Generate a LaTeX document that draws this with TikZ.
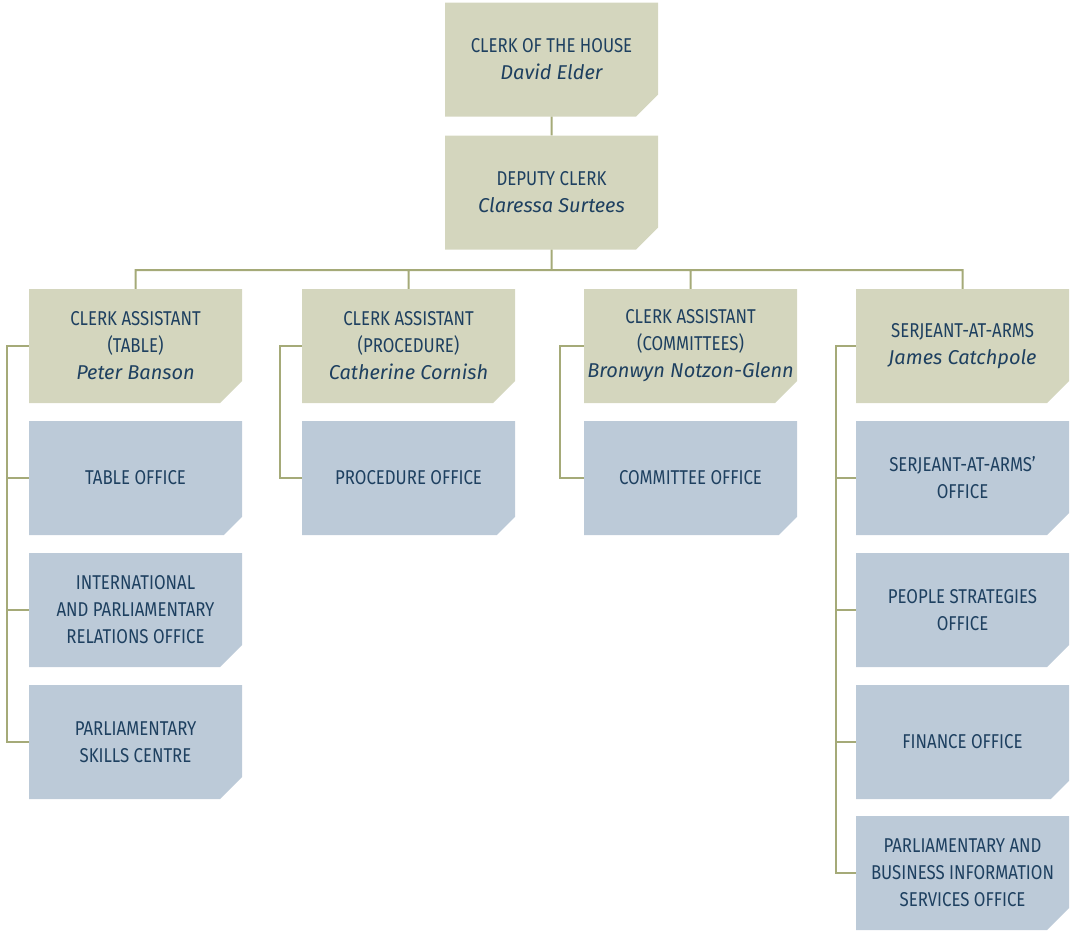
\documentclass[tikz,border=0pt]{standalone}
\usepackage{fontspec}
\usetikzlibrary{shapes.misc}
\newfontfamily\titlefont{Fira Sans}[FakeStretch=0.84]
\newfontfamily\namefont{Fira Sans}
\newcommand{\who}[1]{{\namefont\itshape #1}}
\definecolor{headfill}{RGB}{212,214,190}
\definecolor{officefill}{RGB}{188,202,216}
\definecolor{linkolive}{RGB}{165,170,120}
\definecolor{textblue}{RGB}{30,64,96}
\tikzset{
  unit/.style={chamfered rectangle, chamfered rectangle corners=south east,
    chamfered rectangle xsep=11pt, chamfered rectangle ysep=11pt,
    minimum width=213pt, minimum height=114pt, inner sep=0pt, align=center,
    text=textblue, font=\titlefont\fontsize{20}{27}\selectfont},
  head/.style={unit, fill=headfill},
  office/.style={unit, fill=officefill},
  link/.style={draw=linkolive, line width=2pt},
}

\begin{document}
\begin{tikzpicture}[x=1pt,y=-1pt]
    \useasboundingbox (0,0) rectangle (1071,930);
    % top of the house
    \node[head] at (551.5, 59.5)(clerk){CLERK OF THE HOUSE\\\who{David Elder}};
    \node[head] at (551.5, 192.5)(deputy){DEPUTY CLERK\\\who{Claressa Surtees}};
    \coordinate (bus) at (551.5, 270);

    % second row
    \node[head] at (135.5, 346)(catable){CLERK ASSISTANT\\(TABLE)\\\who{Peter Banson}};
    \node[head] at (408.5, 346)(caproc){CLERK ASSISTANT\\(PROCEDURE)\\\who{Catherine Cornish}};
    \node[head] at (690.5, 346)(cacomm){CLERK ASSISTANT\\(COMMITTEES)\\\who{\makebox[0pt]{Bronwyn Notzon-Glenn}}};
    \node[head] at (962.5, 346)(serjeant){SERJEANT-AT-ARMS\\\who{James Catchpole}};

    % offices
    \node[office] at (135.5, 478)(tableoff){TABLE OFFICE};
    \node[office] at (135.5, 610)(iproff){INTERNATIONAL\\AND PARLIAMENTARY\\RELATIONS OFFICE};
    \node[office] at (135.5, 742)(skills){PARLIAMENTARY\\SKILLS CENTRE};
    \node[office] at (408.5, 478)(procoff){PROCEDURE OFFICE};
    \node[office] at (690.5, 478)(commoff){COMMITTEE OFFICE};
    \node[office] at (962.5, 478)(saaoff){SERJEANT-AT-ARMS’\\OFFICE};
    \node[office] at (962.5, 610)(people){PEOPLE STRATEGIES\\OFFICE};
    \node[office] at (962.5, 742)(finance){FINANCE OFFICE};
    \node[office] at (962.5, 873)(pbis){PARLIAMENTARY AND\\BUSINESS INFORMATION\\SERVICES OFFICE};

    \path[link]
        (clerk) -- (deputy)
        (deputy) -- (bus)
        (catable.north) |- (bus)
        (caproc.north) |- (bus)
        (cacomm.north) |- (bus)
        (serjeant.north) |- (bus)
        ;

    % side rails
    \draw[link] (catable.west) -- ++(-22,0) |- (skills.west);
    \draw[link] (caproc.west) -- ++(-22,0) |- (procoff.west);
    \draw[link] (cacomm.west) -- ++(-24,0) |- (commoff.west);
    \draw[link] (serjeant.west) -- ++(-20,0) |- (pbis.west);
    \foreach \n in {tableoff, iproff}
        \draw[link] (\n.west) -- ++(-22,0);
    \foreach \n in {saaoff, people, finance}
        \draw[link] (\n.west) -- ++(-20,0);
\end{tikzpicture}
\end{document}
